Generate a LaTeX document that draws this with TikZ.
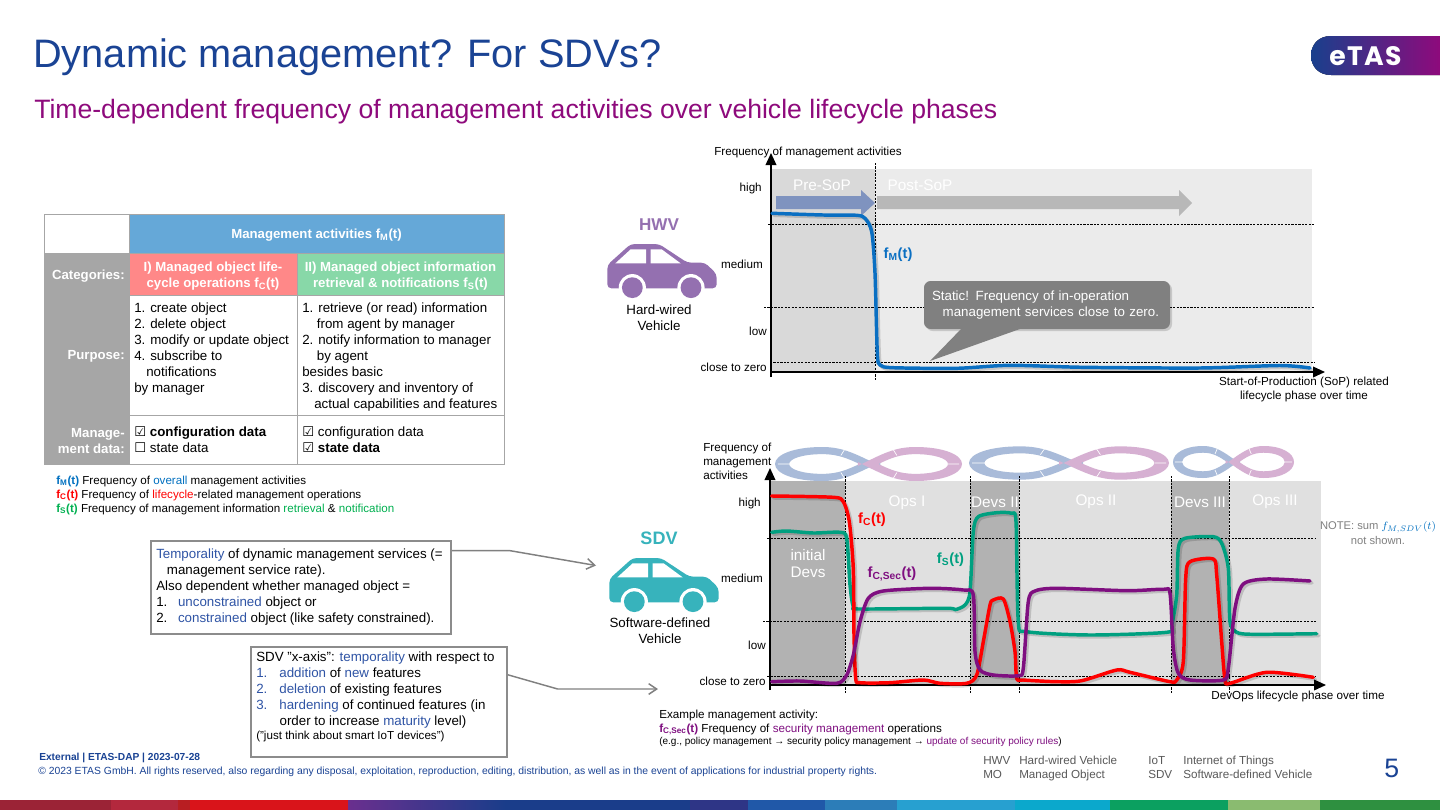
\documentclass[tikz,border=0pt]{standalone}
\usepackage{fontspec}
\setmainfont{Liberation Sans}
\newfontfamily\djv{DejaVu Sans}
\newfontfamily\pop{Poppins}
\usetikzlibrary{arrows.meta,calc,shadings}
\definecolor{etasblue}{HTML}{1A4394}
\definecolor{etaspurple}{HTML}{8E0A7C}
\definecolor{tblblue}{HTML}{65A8D8}
\definecolor{tblgrey}{HTML}{A6A6A6}
\definecolor{tblred}{HTML}{FF8888}
\definecolor{tblgreen}{HTML}{88D8A8}
\definecolor{txtblue}{HTML}{2F54A5}
\definecolor{legblue}{HTML}{0070C0}
\definecolor{leggreen}{HTML}{00B050}
\definecolor{curveblue}{HTML}{0A6FC2}
\definecolor{curvegreen}{HTML}{00A080}
\definecolor{curvepurple}{HTML}{7F0F80}
\definecolor{hwvpurple}{HTML}{9470B0}
\definecolor{sdvteal}{HTML}{37B3BC}
\definecolor{ribblue}{HTML}{A9BBD9}
\definecolor{ribpink}{HTML}{D6B0D2}
\definecolor{abbrgrey}{HTML}{595959}
\definecolor{arrowblue}{HTML}{7F93BF}
\definecolor{boxgrey}{HTML}{8C8C8C}
\definecolor{s1}{HTML}{9B2336}
\definecolor{s2}{HTML}{B3283D}
\definecolor{s3}{HTML}{B81E22}
\definecolor{s4}{HTML}{D9141A}
\definecolor{s5}{HTML}{6A2F8E}
\definecolor{s6}{HTML}{1A3D8A}
\definecolor{s7}{HTML}{2E3586}
\definecolor{s8}{HTML}{2058A8}
\definecolor{s9}{HTML}{2C7DB8}
\definecolor{s10}{HTML}{27A0D0}
\definecolor{s11}{HTML}{0BA8CC}
\definecolor{s12}{HTML}{0BA060}
\definecolor{s13}{HTML}{8ABB70}
\definecolor{s14}{HTML}{2E9040}
\newcommand\cbon{{\djv\fontsize{10}{12}\selectfont ☑}}
\newcommand\cboff{{\djv\fontsize{10}{12}\selectfont ☐}}
\newcommand\curveline[3]{%
  \draw[line width=2.6pt,black,opacity=.15,line cap=round,line join=round,shift={(2,2)}] plot[smooth,tension=.45] coordinates {#2};
  \draw[line width=#3,#1,line cap=round,line join=round] plot[smooth,tension=.45] coordinates {#2};}
\newcommand\lobe[5]{% tip x, y, x unit, y unit, colour
  \begin{scope}[shift={(#1,#2)},x=#3,y=#4]
  \fill[#5,even odd rule] (1.12,.12) .. controls (.85,-.62) and (.72,-1) .. (.5,-1) .. controls (.2,-1) and (0,-.55) .. (0,0) .. controls (0,.55) and (.2,1) .. (.5,1) .. controls (.72,1) and (.85,.62) .. (1.12,-.12) -- cycle
   (.9,0) .. controls (.78,-.3) and (.68,-.58) .. (.5,-.58) .. controls (.3,-.58) and (.15,-.32) .. (.15,0) .. controls (.15,.32) and (.3,.58) .. (.5,.58) .. controls (.68,.58) and (.78,.3) .. (.9,0) -- cycle;
  \draw[white,line width=.5pt] (.03,0) -- (.15,0) (.74,-.85) -- (.7,-.5) (.74,.85) -- (.7,.5);
  \end{scope}}
\newcommand\carshape[3]{% x, y, colour
  \begin{scope}[shift={(#1,#2)},x=.25pt,y=-.25pt]
  \fill[#3,rounded corners=3pt] (52,195) -- (122,132) -- (207,132) -- (292,188) -- (345,188) -- (380,222) -- (380,265) -- (52,265) -- cycle;
  \fill[white] (76,190) -- (122,148) -- (168,148) -- (168,190) -- cycle;
  \fill[white] (182,148) -- (215,148) -- (272,190) -- (182,190) -- cycle;
  \fill[white] (127,263) circle[radius=10.2pt];
  \fill[white] (303,263) circle[radius=10.2pt];
  \fill[#3] (127,263) circle[radius=7.8pt];
  \fill[#3] (303,263) circle[radius=7.8pt];
  \end{scope}}
\tikzset{
  txt/.style={inner sep=0pt,align=left,font=\fontsize{10}{12}\selectfont},
  tbold/.style={inner sep=0pt,align=center,font=\fontsize{9.9}{12}\selectfont\bfseries,text=white},
  axlab/.style={inner sep=0pt,align=left,font=\fontsize{8.75}{10.5}\selectfont},
  phase/.style={inner sep=0pt,align=center,text=white,font=\fontsize{11.5}{13}\selectfont,yshift=-1pt},
  curvelab/.style={inner sep=0pt,font=\fontsize{11}{13}\selectfont\bfseries},
  dashh/.style={black,line width=.55pt,dash pattern=on 1.6pt off 1pt},
  axis/.style={line width=1.1pt,black,-{Triangle[length=9pt,width=8pt]}},
  note/.style={draw=boxgrey,line width=1.5pt,inner sep=0pt,fill=white},
  conn/.style={draw=black!50,line width=1.1pt,-{Straight Barb[length=6pt,width=8pt]}},
  abbr/.style={inner sep=0pt,text=abbrgrey,font=\fontsize{8.75}{10}\selectfont,anchor=base west},
}
\begin{document}
\begin{tikzpicture}[x=.75pt,y=-.75pt]
\path[use as bounding box,fill=white] (0,0) rectangle (1440,810);
% title
\node[inner sep=0,anchor=base west,text=etasblue,font=\fontsize{29.8}{32}\selectfont] (title) at (33,67) {Dynamic management? For SDVs?};
\node[inner sep=0,anchor=base west,text=etaspurple,font=\fontsize{19.95}{22}\selectfont] (subtitle) at (34,118) {Time-dependent frequency of management activities over vehicle lifecycle phases};
% logo
\fill[left color=etasblue!95!black,right color=etaspurple] (1440,36) -- (1331,36) .. controls (1318,36) and (1311,45) .. (1311,55.5) .. controls (1311,66) and (1318,75) .. (1331,75) -- (1440,75) -- cycle;
\node[inner sep=0,text=white,font=\pop\bfseries\fontsize{20}{22}\selectfont] (logo) at (1365.5,56) {\addfontfeature{LetterSpace=5}eTAS};
% table
\fill[tblblue] (129,214) rectangle (504,253);
\fill[tblgrey] (44,253) rectangle (129,464);
\fill[tblred] (129,253) rectangle (297,295);
\fill[tblgreen] (297,253) rectangle (504,295);
\draw[black!35,line width=.75pt] (44,214) rectangle (504,464);
\draw[black!35,line width=.75pt] (44,253) -- (504,253) (44,295) -- (504,295) (44,415) -- (504,415) (129,214) -- (129,464) (297,253) -- (297,464);
\node[tbold] (thead) at (316.5,235) {Management activities f\textsubscript{M}(t)};
\node[tbold,align=right,anchor=east] (tcat) at (125,276) {Categories:};
\node[tbold] (tred) at (213,276) {I) Managed object life-\\cycle operations f\textsubscript{C}(t)};
\node[tbold] (tgreen) at (400.5,276) {II) Managed object information\\retrieval \& notifications f\textsubscript{S}(t)};
\node[tbold,align=right,anchor=east] (tpur) at (125,356) {Purpose:};
\node[tbold,align=right,anchor=east] (tdata) at (125,441) {Manage-\\ment data:};
\node[txt,anchor=north west] (p1) at (134,302.2) {1. create object\\2. delete object\\3. modify or update object\\4. subscribe to\\\hspace*{9pt}notifications\\by manager};
\node[txt,anchor=north west] (p2) at (302,302.2) {1. retrieve (or read) information\\\hspace*{11pt}from agent by manager\\2. notify information to manager\\\hspace*{11pt}by agent\\besides basic\\3. discovery and inventory of\\\hspace*{9pt}actual capabilities and features};
\node[txt,anchor=north west] (d1) at (134,426.2) {\textbf{\cbon\ configuration data}\\\cboff\ state data};
\node[txt,anchor=north west] (d2) at (302,426.2) {\cbon\ configuration data\\\textbf{\cbon\ state data}};
% legend
\node[inner sep=0,align=left,font=\fontsize{8.7}{10.5}\selectfont,anchor=north west] (leg) at (56,475.5) {\textcolor{legblue}{\textbf{f\textsubscript{M}(t)}} Frequency of \textcolor{legblue}{overall} management activities\\\textcolor{red}{\textbf{f\textsubscript{C}(t)}} Frequency of \textcolor{red}{lifecycle}-related management operations\\\textcolor{leggreen}{\textbf{f\textsubscript{S}(t)}} Frequency of management information \textcolor{leggreen}{retrieval} \& \textcolor{leggreen}{notification}};
% boxes
\node[note,anchor=north west,minimum width=225pt,minimum height=70pt] (box1) at (150,540) {};
\node[txt,anchor=north west] (box1t) at (156,548.7) {\textcolor{txtblue}{Temporality} of dynamic management services (=\\\hspace*{8pt}management service rate).\\Also dependent whether managed object =\\1.\hspace{8pt}\textcolor{txtblue}{unconstrained} object or\\2.\hspace{8pt}\textcolor{txtblue}{constrained} object (like safety constrained).};
\node[note,anchor=north west,minimum width=192pt,minimum height=83pt] (box2) at (250,645.5) {};
\node[txt,anchor=north west] (box2t) at (256,651.7) {SDV "x-axis": \textcolor{txtblue}{temporality} with respect to\\\textcolor{txtblue}{1.}\hspace{9pt}\textcolor{txtblue}{addition} of \textcolor{txtblue}{new} features\\\textcolor{txtblue}{2.}\hspace{9pt}\textcolor{txtblue}{deletion} of existing features\\\textcolor{txtblue}{3.}\hspace{9pt}\textcolor{txtblue}{hardening} of continued features (in\\\hspace*{17.5pt}order to increase \textcolor{txtblue}{maturity} level)\\[-1.5pt]{\fontsize{8.7}{10}\selectfont ("just think about smart IoT devices")}};
\coordinate (arrow1end) at (596,565.5);
\coordinate (arrow2end) at (658,689);
\draw[conn] ([yshift=-8pt]box1.north east) -- +(58,0) -- (arrow1end);
\draw[conn] ([yshift=-22pt]box2.north east) -- (557.6,689) -- (arrow2end);
% cars
\carshape{590}{200}{hwvpurple}
\carshape{592}{514}{sdvteal}
\node[inner sep=0,text=hwvpurple,font=\fontsize{12.8}{14}\selectfont\bfseries] (hwv) at (659,225) {HWV};
\node[inner sep=0,text=sdvteal,font=\fontsize{13.5}{14}\selectfont\bfseries] (sdv) at (659,538) {SDV};
\node[txt,align=center] (hwvt) at (659,317.5) {Hard-wired\\Vehicle};
\node[txt,align=center] (sdvt) at (660,630.5) {Software-defined\\Vehicle};
% chart 1
\fill[black!15] (772,169) rectangle (875,372);
\fill[black!8] (875,169) rectangle (1312,372);
\fill[arrowblue] (776,196) -- (861,196) -- (861,190) -- (875,203) -- (861,216) -- (861,209) -- (776,209) -- cycle;
\fill[black!28] (877,196) -- (1179,196) -- (1179,190) -- (1192,203) -- (1179,216) -- (1179,209) -- (877,209) -- cycle;
\draw[dashh] (768,224) -- (1315,224) (764,307) -- (1315,307) (770,362) -- (1315,362);
\draw[dashh] (875,163) -- (875,381);
\draw[axis] (771,377) -- (771,153);
\draw[axis] (771,372) -- (1325,372);
\curveline{curveblue}{(772,213.3) (823,215) (856.7,215.3) (865,218.3) (871.7,231.7) (875,273) (877.3,353) (880,365) (893,367.7) (956.7,368.3) (1010,365.3) (1083,367.3) (1200,368) (1280,365.5) (1310,368)}{2.6pt}
\node[axlab,anchor=west] (yl1) at (714,152) {Frequency of management activities};
\node[axlab,anchor=east] (hi1) at (762,188) {high};
\node[axlab,anchor=east] (me1) at (763,264) {medium};
\node[axlab,anchor=east] (lo1) at (767,331) {low};
\node[axlab,anchor=east] (cl1) at (767,367) {close to zero};
\node[phase] (pre) at (822,184) {Pre-SoP};
\node[phase] (post) at (920,184) {Post-SoP};
\node[curvelab,text=curveblue] (fm) at (898,255) {f\textsubscript{M}(t)};
\fill[black,opacity=.15,rounded corners=5pt] (926,283) rectangle (1172,331);
\node[fill=black!50,rounded corners=5pt,inner xsep=6pt,inner ysep=0pt,text width=172.5pt,minimum height=36pt,align=left,text=white,font=\fontsize{10}{12}\selectfont] (callout) at (1047,305) {Static! Frequency of in-operation\\\hspace*{8pt}management services close to zero.};
\fill[black!50] ($(callout.south west)+(39,-2)$) -- (930,361) -- ($(callout.south west)+(101,-2)$) -- cycle;
\node[axlab,align=center] (xl1) at (1304,389.5) {Start-of-Production (SoP) related\\lifecycle phase over time};
% chart 2
\lobe{775}{464}{70.5pt}{-12.75pt}{ribblue}
\lobe{962}{464}{-69.75pt}{-12.75pt}{ribpink}
\lobe{969}{463}{76.5pt}{-12.5pt}{ribblue}
\lobe{1169}{463}{-73.5pt}{-12.5pt}{ribpink}
\lobe{1173}{462}{45pt}{-12pt}{ribblue}
\lobe{1294}{462}{-45.75pt}{-12pt}{ribpink}
\fill[black!12] (771,481) rectangle (1321,685);
\fill[black!30] (771,481) rectangle (845,685) (970,481) rectangle (1019,685) (1171,481) rectangle (1229,685);
\draw[dashh] (767,538) -- (1316,538) (763,621) -- (1316,621) (767,676) -- (1316,676);
\draw[dashh] (845,476) -- (845,693) (970,476) -- (970,693) (1019,476) -- (1019,693) (1171,476) -- (1171,693) (1229,476) -- (1229,693);
\draw[axis] (770,690) -- (770,468);
\draw[axis] (770,685) -- (1326,685);
\curveline{curvegreen}{(771.7,532.3) (786.7,531) (813.3,533) (840,532.3) (846.7,538.3) (850,585) (853.3,606.7) (860,609) (946.7,608.3) (955,609.7) (965,605) (970,591.7) (973.3,531.7) (978.3,516.7) (996.7,512.7) (1011.7,513.3) (1016,521.7) (1018.3,621.7) (1026.7,631.7) (1090,635) (1166.7,632.3) (1171.7,625) (1176.7,595) (1178.3,548.3) (1185,538.3) (1213.3,536.7) (1221.7,543.3) (1228.3,568.3) (1230,621.7) (1236.7,632.3) (1253.3,634.3) (1316.7,633.7)}{2.6pt}
\curveline{red}{(771.7,496) (833.3,497.3) (843.3,501.7) (849.3,521.7) (853.3,568.3) (854,635) (855.7,678.3) (860,682.7) (890,682.7) (923.3,680) (940,683.3) (966.7,683.3) (976.7,675) (983.3,641.7) (990,605) (993.3,600) (1003.3,599) (1010,621.7) (1015,651.7) (1016.7,678.3) (1023.3,680) (1056.7,681.7) (1081.7,680.7) (1116.7,670) (1130,672.3) (1170,681.7) (1176.7,680) (1183.3,661.7) (1185.7,578.3) (1190,561.7) (1213.3,559) (1216.7,575) (1221.7,641.7) (1225,680) (1230,683.3) (1266.7,672.3) (1313.3,677.3)}{2.6pt}
\curveline{curvepurple}{(771.7,681.7) (800,681) (836.7,683.3) (846.7,675) (853.3,655) (860,621.7) (868.3,598.3) (883.3,591) (930,588.3) (963.3,590) (973.3,595) (975,651.7) (980,670) (993.3,675) (1018.3,675.7) (1023.3,668.3) (1028.3,601.7) (1035,591) (1056.7,588.3) (1126.7,590.7) (1163.3,589.3) (1170,593.3) (1173.3,648.3) (1178.3,673.3) (1190,680) (1223.3,680) (1228.3,668.3) (1235,608.3) (1243.3,584) (1266.7,579) (1310,581)}{2.6pt}
\node[axlab,anchor=north west] (yl2) at (703,442.5) {Frequency of\\management\\activities};
\node[axlab,anchor=east] (hi2) at (761,503) {high};
\node[axlab,anchor=east] (me2) at (763,578) {medium};
\node[axlab,anchor=east] (lo2) at (766,645) {low};
\node[axlab,anchor=east] (cl2) at (766,681) {close to zero};
\node[phase] (ops1) at (907,501) {Ops I};
\node[phase] (dev2) at (995,501) {Devs II};
\node[phase] (ops2) at (1096,500) {Ops II};
\node[phase] (dev3) at (1200,501) {Devs III};
\node[phase] (ops3) at (1275,500) {Ops III};
\node[phase] (dev1) at (808,562) {initial\\Devs};
\node[curvelab,text=red] (fc) at (872,520) {f\textsubscript{C}(t)};
\node[curvelab,text=curvepurple] (fcs) at (892,574) {f\textsubscript{C,Sec}(t)};
\node[curvelab,text=curvegreen] (fsl) at (950.5,560) {f\textsubscript{S}(t)};
\node[inner sep=0,align=center,text=black!50,font=\fontsize{8.4}{11.5}\selectfont] (note) at (1378,533) {NOTE: sum \textcolor{legblue}{$f_{M,SDV}(t)$}\\not shown.};
\node[axlab] (xl2) at (1298,696.5) {DevOps lifecycle phase over time};
% example
\node[axlab,anchor=base west] (ex1) at (659,718) {Example management activity:};
\node[axlab,anchor=base west] (ex2) at (659,732) {\textcolor{curvepurple}{\textbf{f\textsubscript{C,Sec}(t)}} Frequency of \textcolor{curvepurple}{security management} operations};
\node[inner sep=0,anchor=base west,font=\fontsize{7.5}{8}\selectfont] (ex3) at (659,744) {(e.g., policy management → security policy management → \textcolor{curvepurple}{update of security policy rules})};
% footer
\node[inner sep=0,anchor=base west,text=etasblue,font=\fontsize{7.65}{8}\selectfont\bfseries] (f1) at (39,760) {External | ETAS-DAP | 2023-07-28};
\node[inner sep=0,anchor=base west,text=etasblue,font=\fontsize{7.78}{8}\selectfont] (f2) at (38,774) {© 2023 ETAS GmbH. All rights reserved, also regarding any disposal, exploitation, reproduction, editing, distribution, as well as in the event of applications for industrial property rights.};
\node[abbr] (a1) at (983,764) {HWV};
\node[abbr] (a2) at (1019,764) {Hard-wired Vehicle};
\node[abbr] (a3) at (1148,764) {IoT};
\node[abbr] (a4) at (1183,764) {Internet of Things};
\node[abbr] (a5) at (983,778) {MO};
\node[abbr] (a6) at (1019,778) {Managed Object};
\node[abbr] (a7) at (1148,778) {SDV};
\node[abbr] (a8) at (1183,778) {Software-defined Vehicle};
\node[inner sep=0,anchor=base west,text=etasblue,font=\fontsize{20}{22}\selectfont] (pageno) at (1384,777) {5};
% bottom strip
\fill[s1] (0,800) rectangle (111,810);
\fill[s2] (111,800) rectangle (178,810);
\fill[s3] (178,800) rectangle (190,810);
\fill[s4] (190,800) rectangle (348,810);
\fill[left color=s5,right color=s6] (348,800) rectangle (505,810);
\fill[s6] (505,800) rectangle (690,810);
\fill[s7] (690,800) rectangle (748,810);
\fill[s8] (748,800) rectangle (825,810);
\fill[s9] (825,800) rectangle (897,810);
\fill[s10] (897,800) rectangle (1015,810);
\fill[s11] (1015,800) rectangle (1110,810);
\fill[s12] (1110,800) rectangle (1228,810);
\fill[s13] (1228,800) rectangle (1320,810);
\fill[s14] (1320,800) rectangle (1440,810);
\end{tikzpicture}
\end{document}
